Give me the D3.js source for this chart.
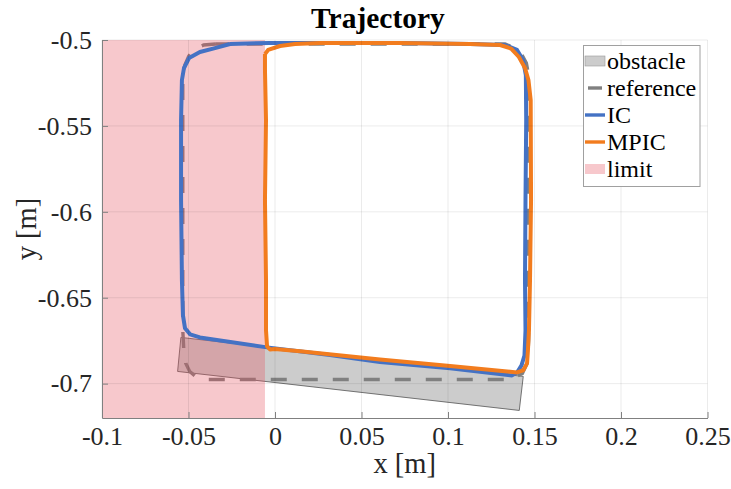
<!DOCTYPE html>
<html><head><meta charset="utf-8">
<script src="https://cdn.jsdelivr.net/npm/d3@7"></script>
<style>body{margin:0;background:#fff}svg{display:block}svg text{font-family:"Liberation Serif","Times New Roman",serif !important}</style>
</head><body>
<script>
// ---- data ----
const xTicks = [-0.1, -0.05, 0, 0.05, 0.1, 0.15, 0.2, 0.25];
const yTicks = [-0.7, -0.65, -0.6, -0.55, -0.5];
const xTickLabels = ["-0.1", "-0.05", "0", "0.05", "0.1", "0.15", "0.2", "0.25"];
const yTickLabels = ["-0.7", "-0.65", "-0.6", "-0.55", "-0.5"];

const obstacleX = [-0.0544, -0.0563, 0.1412, 0.1435];
const obstacleY = [-0.6731, -0.6929, -0.7156, -0.6958];

const limitX = [-0.1, -0.0058];
const limitY = [-0.72, -0.5];

const refX = [-0.0343, 0.1330, 0.1387, 0.1428, 0.1453, 0.1466, 0.1466, 0.1460, 0.1430, 0.1358, -0.0400, -0.0452, -0.0493, -0.0516, -0.0527, -0.0533, -0.0533, -0.0521, -0.0498, -0.0464, -0.0412, -0.0343];
const refY = [-0.5023, -0.5023, -0.5047, -0.5087, -0.5134, -0.5204, -0.6748, -0.6876, -0.6941, -0.6976, -0.6976, -0.6964, -0.6929, -0.6882, -0.6807, -0.6690, -0.5204, -0.5146, -0.5093, -0.5052, -0.5029, -0.5023];

const icX = [-0.0260, -0.0029, 0.0318, 0.0723, 0.1127, 0.1329, 0.1399, 0.1434, 0.1450, 0.1452, 0.1448, 0.1445, 0.1448, 0.1442, 0.1425, 0.1399, 0.1370, 0.1012, 0.0607, 0.0318, -0.0046, -0.0434, -0.0491, -0.0520, -0.0532, -0.0538, -0.0543, -0.0543, -0.0538, -0.0526, -0.0497, -0.0434, -0.0347, -0.0260];
const icY = [-0.5023, -0.5017, -0.5017, -0.5017, -0.5023, -0.5029, -0.5058, -0.5117, -0.5204, -0.5466, -0.5932, -0.6399, -0.6690, -0.6836, -0.6894, -0.6935, -0.6952, -0.6911, -0.6874, -0.6833, -0.6789, -0.6731, -0.6713, -0.6678, -0.6603, -0.6399, -0.5932, -0.5466, -0.5233, -0.5163, -0.5105, -0.5070, -0.5047, -0.5023];

const mpicX = [-0.0058, -0.0040, 0.0029, 0.0116, 0.0260, 0.0723, 0.1127, 0.1301, 0.1365, 0.1410, 0.1445, 0.1465, 0.1478, 0.1480, 0.1474, 0.1468, 0.1462, 0.1457, 0.1434, 0.1399, 0.1012, 0.0607, 0.0145, 0.0000, -0.0029, -0.0046, -0.0052, -0.0052, -0.0058, -0.0052, -0.0058, -0.0058];
const mpicY = [-0.5082, -0.5058, -0.5035, -0.5023, -0.5017, -0.5017, -0.5023, -0.5029, -0.5050, -0.5099, -0.5163, -0.5233, -0.5350, -0.5932, -0.6399, -0.6690, -0.6807, -0.6882, -0.6923, -0.6935, -0.6897, -0.6859, -0.6812, -0.6798, -0.6801, -0.6783, -0.6690, -0.6399, -0.5932, -0.5466, -0.5175, -0.5082];

const legendLabels = ["obstacle", "reference", "IC", "MPIC", "limit"];

// ---- layout ----
const W = 731, H = 489;
const L = 102, R = 707.5, T = 40, B = 418;
const cBlue = "#4472c4", cOrange = "#f27c1e", cRef = "#808080";
const serif = "'Liberation Serif', 'Times New Roman', serif";

const svg = d3.select("body").append("svg").attr("width", W).attr("height", H);
const x = d3.scaleLinear().domain([-0.1, 0.25]).range([L, R]);
const y = d3.scaleLinear().domain([-0.72, -0.5]).range([B, T]);

svg.append("defs").append("clipPath").attr("id", "clip")
  .append("rect").attr("x", L).attr("y", T).attr("width", R - L).attr("height", B - T);
const plot = svg.append("g").attr("clip-path", "url(#clip)");

// obstacle
plot.append("polygon")
  .attr("points", obstacleX.map((v, i) => [x(v), y(obstacleY[i])].join(",")).join(" "))
  .attr("fill", "#cccccc").attr("stroke", "#555").attr("stroke-width", 0.8);

const line = (xs, ys) => d3.line().curve(d3.curveLinear)(xs.map((v, i) => [x(v), y(ys[i])]));

// reference
plot.append("path").attr("d", line(refX, refY)).attr("fill", "none")
  .attr("stroke", cRef).attr("stroke-width", 3.4).attr("stroke-dasharray", "16,15");

// limit
plot.append("rect").attr("x", x(limitX[0])).attr("width", x(limitX[1]) - x(limitX[0]))
  .attr("y", y(limitY[1])).attr("height", y(limitY[0]) - y(limitY[1]))
  .attr("fill", "rgb(229,77,90)").attr("fill-opacity", 0.31);

// grid
const grid = svg.append("g").attr("stroke", "#000").attr("stroke-opacity", 0.08).attr("stroke-width", 1);
xTicks.forEach(t => grid.append("line").attr("x1", x(t)).attr("x2", x(t)).attr("y1", T).attr("y2", B));
yTicks.forEach(t => grid.append("line").attr("y1", y(t)).attr("y2", y(t)).attr("x1", L).attr("x2", R));

// trajectories
plot.append("path").attr("d", line(icX, icY)).attr("fill", "none")
  .attr("stroke", cBlue).attr("stroke-width", 4).attr("stroke-linejoin", "round");
plot.append("path").attr("d", line(mpicX, mpicY)).attr("fill", "none")
  .attr("stroke", cOrange).attr("stroke-width", 4).attr("stroke-linejoin", "round");

// axes
const xAxis = d3.axisBottom(x).tickValues(xTicks).tickFormat((d, i) => xTickLabels[i]).tickSizeInner(-6).tickSizeOuter(0);
const yAxis = d3.axisLeft(y).tickValues(yTicks).tickFormat((d, i) => yTickLabels[i]).tickSizeInner(-6).tickSizeOuter(0);
const gx = svg.append("g").attr("transform", `translate(0,${B})`).call(xAxis);
const gy = svg.append("g").attr("transform", `translate(${L},0)`).call(yAxis);
[gx, gy].forEach(g => {
  g.attr("font-family", null).style("font-family", serif);
  g.select(".domain").attr("stroke", "#808080").attr("stroke-width", 1);
  g.selectAll(".tick line").attr("stroke", "#808080");
  g.selectAll(".tick text").attr("fill", "#262626").attr("font-size", 26).style("font-family", serif);
});
gx.selectAll(".tick text").attr("dy", "0.71em").attr("y", 9);
gy.selectAll(".tick text").attr("x", -10);

// labels
svg.append("text").attr("x", 378).attr("y", 28).attr("text-anchor", "middle")
  .attr("font-size", 29.5).attr("font-weight", "bold").attr("fill", "#000").text("Trajectory");
svg.append("text").attr("x", (L + R) / 2).attr("y", 473).attr("text-anchor", "middle")
  .attr("font-size", 28.5).attr("fill", "#262626").text("x [m]");
svg.append("text").attr("transform", `translate(36,${(T + B) / 2}) rotate(-90)`).attr("text-anchor", "middle")
  .attr("font-size", 28.5).attr("fill", "#262626").text("y [m]");

// legend
const lg = svg.append("g");
lg.append("rect").attr("x", 583.5).attr("y", 45.5).attr("width", 116.5).attr("height", 141)
  .attr("fill", "#fff").attr("stroke", "#a0a0a0").attr("stroke-width", 1);
const rowY = (i) => 61 + i * 27;
legendLabels.forEach((lab, i) => {
  const cy = rowY(i);
  if (lab === "obstacle") {
    lg.append("rect").attr("x", 585).attr("y", cy - 5).attr("width", 20).attr("height", 10)
      .attr("fill", "#cccccc").attr("stroke", "#999").attr("stroke-width", 0.6);
  } else if (lab === "limit") {
    lg.append("rect").attr("x", 585).attr("y", cy - 5).attr("width", 20).attr("height", 10)
      .attr("fill", "rgb(229,77,90)").attr("fill-opacity", 0.31);
  } else {
    const col = lab === "reference" ? cRef : lab === "IC" ? cBlue : cOrange;
    const len = lab === "reference" ? [588, 602] : [585, 605];
    lg.append("line").attr("x1", len[0]).attr("x2", len[1]).attr("y1", cy).attr("y2", cy)
      .attr("stroke", col).attr("stroke-width", 3.4);
  }
  lg.append("text").attr("x", 607).attr("y", cy).attr("dy", "0.33em")
    .attr("font-size", 24).attr("fill", "#000").text(lab);
});
</script>
</body></html>
